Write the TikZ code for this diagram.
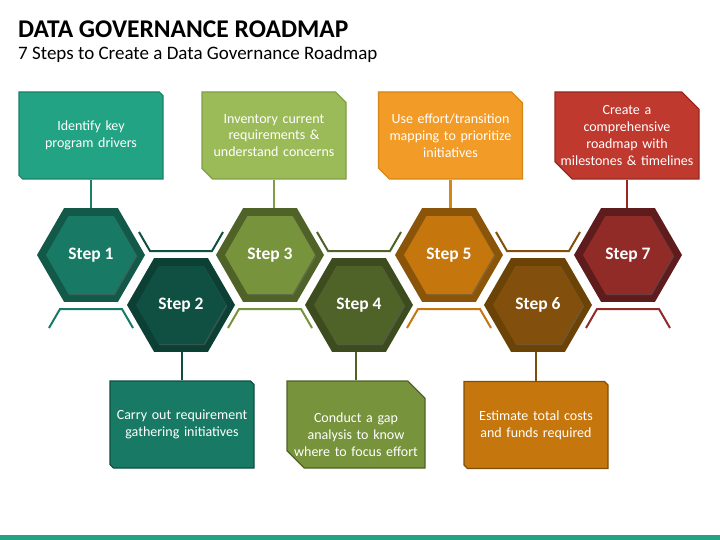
\documentclass[tikz,border=0pt]{standalone}
\usepackage{fontspec}
\setmainfont{Carlito}
\usetikzlibrary{shapes.geometric,shapes.misc,shadows}
\definecolor{boxf1}{HTML}{21A384}\definecolor{boxd1}{HTML}{1A8068}
\definecolor{boxf2}{HTML}{187A64}\definecolor{boxd2}{HTML}{0E4F40}
\definecolor{boxf3}{HTML}{9BBB59}\definecolor{boxd3}{HTML}{7F9F45}
\definecolor{boxf4}{HTML}{77933C}\definecolor{boxd4}{HTML}{4F6228}
\definecolor{boxf5}{HTML}{F29B26}\definecolor{boxd5}{HTML}{D48617}
\definecolor{boxf6}{HTML}{C5760D}\definecolor{boxd6}{HTML}{7F4F0A}
\definecolor{boxf7}{HTML}{C0392F}\definecolor{boxd7}{HTML}{96281F}
\definecolor{hexo1}{HTML}{12594A}\definecolor{hexi1}{HTML}{187A64}
\definecolor{hexo2}{HTML}{0C4034}\definecolor{hexi2}{HTML}{105042}
\definecolor{hexo3}{HTML}{4F6228}\definecolor{hexi3}{HTML}{77933C}
\definecolor{hexo4}{HTML}{3C4C1E}\definecolor{hexi4}{HTML}{4F6228}
\definecolor{hexo5}{HTML}{8A5509}\definecolor{hexi5}{HTML}{C5760D}
\definecolor{hexo6}{HTML}{6B4306}\definecolor{hexi6}{HTML}{82500C}
\definecolor{hexo7}{HTML}{5F1C1C}\definecolor{hexi7}{HTML}{902B27}
\begin{document}
\begin{tikzpicture}[
        x = 1pt,
        y = -1pt,
        hexout/.style = {regular polygon, regular polygon sides = 6, minimum size = 108pt, inner sep = 0pt, outer sep = 0pt},
        hexin/.style = {regular polygon, regular polygon sides = 6, minimum size = 90pt, inner sep = 0pt, text = white,
          font = \fontsize{17.5}{20}\selectfont\bfseries, drop shadow = {shadow xshift = 1.2pt, shadow yshift = -1.2pt, opacity = .35}},
        stepbox/.style = {chamfered rectangle, chamfered rectangle corners = {north east, south west},
          chamfered rectangle xsep = 14pt, minimum width = 144pt, minimum height = 87pt, inner xsep = -14pt, inner ysep = -14pt,
          line width = 1.2pt, text = white, text width = 136pt, align = center, font = \fontsize{14}{16.8}\selectfont},
        link/.style = {line width = 2.5pt},
        brace/.style = {line width = 2pt}]
      \useasboundingbox (0, 0) rectangle (720, 540);
      \fill [boxf1] (0, 535) rectangle (720, 540);
      \node [anchor = base west, inner sep = 0pt, font = \fontsize{25.5}{30}\selectfont\bfseries] (title) at (18, 37.3) {DATA GOVERNANCE ROADMAP};
      \node [anchor = base west, inner sep = 0pt, font = \fontsize{19}{23}\selectfont] (subtitle) at (18, 59.3) {7 Steps to Create a Data Governance Roadmap};
      \foreach \i/\x/\y in {1/91/255, 2/181/305, 3/270/255, 4/359/305, 5/449/255, 6/538/305, 7/628/255} {
        \node [hexout, fill = hexo\i] (s\i) at (\x, \y) {};
        \node [hexin, fill = hexi\i] (t\i) at (s\i) {Step \i};
      }
      \foreach \i in {1, 3, 5, 7}
        \draw [brace, hexi\i] ([shift = {(-42, 73)}]s\i.center) -- ++(11, -19) -- ++(62, 0) -- ++(11, 19);
      \foreach \i in {2, 4, 6}
        \draw [brace, hexi\i] ([shift = {(-42, -73)}]s\i.center) -- ++(11, 19) -- ++(62, 0) -- ++(11, -19);
      \node [stepbox, fill = boxf1, draw = boxd1] (b1) at (91, 135.5) {Identify key\\program drivers};
      \node [stepbox, fill = boxf3, draw = boxd3] (b3) at (274, 135.5) {Inventory current\\requirements \&\\understand concerns};
      \node [stepbox, fill = boxf5, draw = boxd5] (b5) at (450.5, 135.5) {Use effort/transition\\mapping to prioritize\\initiatives};
      \node [stepbox, fill = boxf7, draw = boxd7] (b7) at (627, 135.5) {Create a\\comprehensive\\roadmap with\\milestones \& timelines};
      \node [stepbox, fill = boxf2, draw = boxd2] (b2) at (182, 424.5) {Carry out requirement\\gathering initiatives};
      \node [stepbox, fill = boxf4, draw = boxd4, minimum width = 138pt] (b4) at (356, 424.5) {\rule{0pt}{30pt}Conduct a gap\\analysis to know\\where to focus effort};
      \node [stepbox, fill = boxf6, draw = boxd6] (b6) at (536, 425) {Estimate total costs\\and funds required};
      \foreach \i in {1, 3, 5, 7}
        \draw [link, boxd\i] (b\i.south) -- (b\i.south |- s\i.north);
      \foreach \i in {2, 4, 6}
        \draw [link, boxd\i] (s\i.south -| b\i.north) -- (b\i.north);
    \end{tikzpicture}
\end{document}
